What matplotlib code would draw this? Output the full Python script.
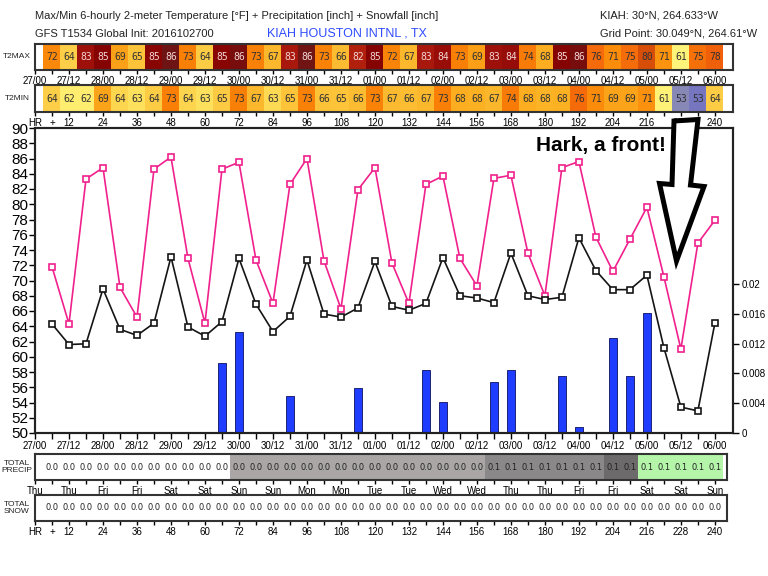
import numpy as np
import matplotlib
matplotlib.use("Agg")
import matplotlib.pyplot as plt
from matplotlib.colors import LinearSegmentedColormap
from matplotlib.patches import Polygon

plt.rcParams['font.family'] = ['Liberation Sans', 'DejaVu Sans']

W, H = 768.0, 576.0
XMAX = 246.4   # [h] right edge of every strip

# ---- data ----
hours = np.arange(6, 241, 6)
t_max = [71.8, 64.3, 83.3, 84.8, 69.1, 65.2, 84.6, 86.2, 72.9, 64.4,
         84.6, 85.5, 72.7, 67.0, 82.6, 86.0, 72.6, 66.3, 81.9, 84.8,
         72.3, 67.0, 82.6, 83.7, 72.9, 69.3, 83.4, 83.8, 73.6, 68.0,
         84.8, 85.6, 75.7, 71.2, 75.4, 79.6, 70.5, 61.0, 74.9, 77.9]
t_min = [64.3, 61.6, 61.7, 68.9, 63.6, 62.8, 64.4, 73.1, 63.9, 62.7,
         64.6, 72.9, 66.9, 63.3, 65.3, 72.7, 65.6, 65.2, 66.4, 72.5,
         66.6, 66.1, 67.0, 73.0, 68.0, 67.7, 67.1, 73.6, 68.0, 67.5,
         67.8, 75.6, 71.3, 68.8, 68.8, 70.7, 61.2, 53.4, 52.9, 64.4]
t2max_txt = [72, 64, 83, 85, 69, 65, 85, 86, 73, 64, 85, 86, 73, 67, 83, 86, 73, 66, 82, 85,
             72, 67, 83, 84, 73, 69, 83, 84, 74, 68, 85, 86, 76, 71, 75, 80, 71, 61, 75, 78]
t2min_txt = [64, 62, 62, 69, 64, 63, 64, 73, 64, 63, 65, 73, 67, 63, 65, 73, 66, 65, 66, 73,
             67, 66, 67, 73, 68, 68, 67, 74, 68, 68, 68, 76, 71, 69, 69, 71, 61, 53, 53, 64]

precip_hours = [66, 72, 90, 114, 138, 144, 162, 168, 186, 192, 204, 210, 216]
precip_vals = [0.0094, 0.0136, 0.0050, 0.0060, 0.0085, 0.0042, 0.0068,
               0.0085, 0.0076, 0.0008, 0.0128, 0.0076, 0.0161]

total_precip = ['0.0', '0.0', '0.0', '0.0', '0.0', '0.0', '0.0', '0.0', '0.0', '0.0',
                '0.0', '0.0', '0.0', '0.0', '0.0', '0.0', '0.0', '0.0', '0.0', '0.0',
                '0.0', '0.0', '0.0', '0.0', '0.0', '0.0', '0.1', '0.1', '0.1', '0.1',
                '0.1', '0.1', '0.1', '0.1', '0.1', '0.1', '0.1', '0.1', '0.1', '0.1']
precip_level = [0, 0, 0, 0, 0, 0, 0, 0, 0, 0, 0, 1, 1, 1, 1, 1, 1, 1, 1, 1,
                1, 1, 1, 1, 1, 1, 2, 2, 2, 2, 2, 2, 2, 3, 3, 4, 4, 4, 4, 4]
total_snow = ['0.0'] * 40

date_labels = ['27/00', '27/12', '28/00', '28/12', '29/00', '29/12', '30/00', '30/12',
               '31/00', '31/12', '01/00', '01/12', '02/00', '02/12', '03/00', '03/12',
               '04/00', '04/12', '05/00', '05/12', '06/00']
day_labels = ['Thu', 'Thu', 'Fri', 'Fri', 'Sat', 'Sat', 'Sun', 'Sun', 'Mon', 'Mon', 'Tue',
              'Tue', 'Wed', 'Wed', 'Thu', 'Thu', 'Fri', 'Fri', 'Sat', 'Sat', 'Sun']

# temperature colour scale (value, colour)
temp_anchors = [(50, '#6060d0'), (52.9, '#7676c0'), (53.5, '#9292b2'), (60, '#fffb92'),
                (61, '#fff47a'), (62, '#fee866'), (63, '#fddc58'), (64, '#fdd24c'),
                (65, '#fdc53c'), (67, '#fbb82c'), (68, '#fcaf20'), (69, '#fba218'),
                (71, '#fb8e0c'), (73, '#f97f06'), (75, '#f6700a'), (76, '#f4680a'),
                (78, '#f0600a'), (80, '#d24a08'), (82, '#b0200c'), (83, '#a5140c'),
                (85, '#820202'), (86, '#701414'), (90, '#601010')]
precip_colors = ['white', '#aaa6a6', '#8a8888', '#6c6a6a', '#b4f5aa']

tmin_, tmax_ = 50.0, 90.0
cmap = LinearSegmentedColormap.from_list(
    'temp', [((v - tmin_) / (tmax_ - tmin_), c) for v, c in temp_anchors])

narrow = ['Liberation Sans Narrow', 'Liberation Sans', 'DejaVu Sans']


def rect(x0, y0, x1, y1):
    return [x0 / W, 1 - y1 / H, (x1 - x0) / W, (y1 - y0) / H]


def strip(r, texts, colors, tcolors, name, ticklabels, cellfont):
    ax = fig.add_axes(r)
    ax.set_xlim(0, XMAX)
    ax.set_ylim(0, 1)
    ax.bar(hours, 1, width=6, color=colors, linewidth=0)
    for h, t, tc in zip(hours, texts, tcolors):
        ax.text(h, 0.5, str(t), ha='center', va='center', color=tc, **cellfont)
    ax.set_yticks([])
    ax.set_xticks(np.arange(0, 241, 6))
    ax.set_xticklabels(ticklabels, fontsize=7, family=narrow)
    ax.tick_params(axis='x', length=3, width=1, pad=1.5)
    for s in ax.spines.values():
        s.set_linewidth(1.5)
        s.set_color('#333333')
    y0 = r[1] + r[3] / 2
    fig.text(17 / W, y0, name, ha='center', va='center',
             fontsize=6, color='#222222', linespacing=0.95)
    return ax


def every12(labels):
    out = []
    for i in range(41):
        out.append(labels[i // 2] if i % 2 == 0 else '')
    return out


hr_labels = [str(h) if h % 12 == 0 else '' for h in range(0, 241, 6)]
hr_labels[0] = 'HR'
hr_labels[1] = '+'

temp_font = dict(fontsize=7, family='DejaVu Sans Mono')
acc_font = dict(fontsize=6, family='DejaVu Sans')

fig = plt.figure(figsize=(7.68, 5.76), dpi=100)

# header
fig.text(35 / W, 1 - 16 / H, 'Max/Min 6-hourly 2-meter Temperature [\u00b0F] + Precipitation [inch] + Snowfall [inch]',
         fontsize=8, va='center', ha='left', color='#222222')
fig.text(35 / W, 1 - 34 / H, 'GFS T1534 Global Init: 2016102700', fontsize=8, va='center', color='#222222')
fig.text(267 / W, 1 - 34 / H, 'KIAH HOUSTON INTNL , TX', fontsize=9, va='center', color='#2f4cff')
fig.text(600 / W, 1 - 16 / H, 'KIAH: 30\u00b0N, 264.633\u00b0W', fontsize=8, va='center', color='#222222')
fig.text(600 / W, 1 - 34 / H, 'Grid Point: 30.049\u00b0N, 264.61\u00b0W', fontsize=8, va='center', color='#222222')

# T2MAX / T2MIN strips
norm_max = [cmap((v - tmin_) / (tmax_ - tmin_)) for v in t_max]
norm_min = [cmap((v - tmin_) / (tmax_ - tmin_)) for v in t_min]
txt_max = ['#f3d6d6' if v >= 81.5 else '#333333' for v in t_max]
txt_min = ['#f3d6d6' if v >= 81.5 else '#333333' for v in t_min]
strip(rect(35, 44, 733, 70), t2max_txt, norm_max, txt_max, 'T2MAX', every12(date_labels), temp_font)
strip(rect(35, 85, 733, 112), t2min_txt, norm_min, txt_min, 'T2MIN', hr_labels, temp_font)

# main temperature / precip panel
ax = fig.add_axes(rect(35, 128, 733, 433))
ax2 = ax.twinx()
ax2.bar(precip_hours, precip_vals, width=2.8, color='#1f3dff', edgecolor='#0b1060', linewidth=0.6)
ax2.set_ylim(0, 0.041)
ax2.set_yticks([0, 0.004, 0.008, 0.012, 0.016, 0.02])
ax2.set_yticklabels(['0', '0.004', '0.008', '0.012', '0.016', '0.02'], fontsize=7, family=narrow)
ax2.tick_params(axis='y', length=4, width=1, pad=2)

ax.set_zorder(ax2.get_zorder() + 1)
ax.patch.set_visible(False)
ax.plot(hours, t_max, color='#f0208c', lw=1.2, marker='s', ms=5, mfc='white', mec='#f0208c', mew=1.2)
ax.plot(hours, t_min, color='#151515', lw=1.2, marker='s', ms=5, mfc='white', mec='#151515', mew=1.2)
ax.set_xlim(0, XMAX)
ax.set_ylim(50, 90)
ax.set_yticks(np.arange(50, 91, 2))
ax.set_yticklabels([str(v) for v in range(50, 91, 2)], fontsize=11, family=narrow)
ax.tick_params(axis='y', length=4, width=1, pad=1)
ax.set_xticks(np.arange(0, 241, 6))
ax.set_xticklabels(every12(date_labels), fontsize=7, family=narrow)
ax.tick_params(axis='x', length=4, width=1, pad=1.5)
for s in list(ax.spines.values()) + list(ax2.spines.values()):
    s.set_linewidth(1.5)
    s.set_color('#222222')

# total precip / snow strips
strip(rect(35, 454, 727, 480), total_precip, [precip_colors[k] for k in precip_level],
      ['#222222'] * 40, 'TOTAL\nPRECIP', every12(day_labels), acc_font)
strip(rect(35, 495, 727, 521), total_snow, ['white'] * 40, ['#222222'] * 40,
      'TOTAL\nSNOW', hr_labels, acc_font)
for a in fig.axes[-2:]:
    a.set_xlim(0, XMAX * (727 - 35) / (733 - 35))

# annotation
arrow_px = [(674, 121), (698, 119.5), (690.5, 185), (704, 186.5), (676.5, 261),
            (659.5, 183.5), (672, 184.5)]
arrow = Polygon([(x / W, 1 - y / H) for x, y in arrow_px], closed=True,
                transform=fig.transFigure, facecolor='white', edgecolor='black',
                linewidth=3.6, joinstyle='miter', zorder=20)
fig.add_artist(arrow)
fig.text(601 / W, 1 - 146 / H, 'Hark, a front!', ha='center', va='center',
         fontsize=15, fontweight='bold', color='black', zorder=21)

fig.savefig('out.png', dpi=100)
